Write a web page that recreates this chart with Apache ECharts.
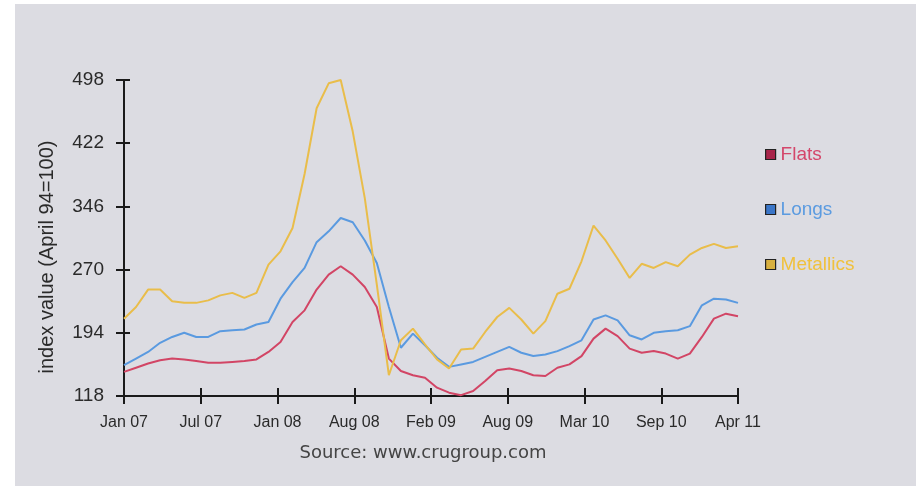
<!DOCTYPE html>
<html>
<head>
<meta charset="utf-8">
<script src="https://cdn.jsdelivr.net/npm/echarts@6/dist/echarts.min.js"></script>
<style>
html, body { margin: 0; padding: 0; background: #fff; }
#chart { position: absolute; left: 15px; top: 4px; width: 901px; height: 482px; background: #dcdce2; }
</style>
</head>
<body>
<div id="chart"></div>
<script>
// tick labels, evenly spaced along 52 monthly points (Jan 07 .. Apr 11)
const tickLabels = ['Jan 07', 'Jul 07', 'Jan 08', 'Aug 08', 'Feb 09', 'Aug 09', 'Mar 10', 'Sep 10', 'Apr 11']
const yTicks = [118, 194, 270, 346, 422, 498]

const flats = [147, 152, 157, 161, 163, 162, 160, 158, 158, 159, 160, 162,
    171, 183, 207, 221, 246, 264, 274, 264, 249, 225, 163, 148, 143, 140,
    128, 122, 119, 124, 136, 149, 151, 148, 143, 142, 152, 156, 166,
    187, 199, 190, 175, 170, 172, 169, 163, 169, 189, 211, 217, 214]
const longs = [155, 163, 171, 182, 189, 194, 189, 189, 196, 197, 198, 204,
    207, 235, 255, 272, 303, 316, 332, 327, 305, 278, 225, 176, 193, 179,
    164, 153, 156, 159, 165, 171, 177, 170, 166, 168, 172, 178, 185,
    210, 215, 209, 191, 186, 194, 196, 197, 202, 227, 235, 234, 230]
const metallics = [211, 225, 246, 246, 232, 230, 230, 233, 239, 242, 236, 242,
    276, 292, 320, 385, 464, 494, 498, 436, 356, 252, 143, 185, 199, 180,
    162, 151, 174, 175, 195, 213, 224, 210, 193, 208, 241, 247, 280,
    323, 305, 283, 260, 277, 272, 279, 274, 288, 296, 301, 296, 298]

const yBase = yTicks[0]
const yStep = yTicks[1] - yTicks[0]
const xStep = (flats.length - 1) / (tickLabels.length - 1)

const toPoints = arr => arr.map((v, i) => [i, v - yBase])

const myChart = echarts.init(document.getElementById('chart'))

const axisColor = '#1a1a1a'
const textColor = '#2a2a2a'

myChart.setOption({
    animation: false,
    grid: { left: 109, right: 178, top: 76, bottom: 90 },
    legend: {
        orient: 'vertical',
        left: 745,
        top: 136,
        itemGap: 36,
        itemWidth: 10,
        itemHeight: 10,
        icon: 'rect',
        itemStyle: { borderColor: '#222', borderWidth: 1.2 },
        textStyle: { fontFamily: 'Liberation Sans', fontSize: 19 },
        data: [
            { name: 'Flats', itemStyle: { color: '#a8254a' }, textStyle: { color: '#d4476b' } },
            { name: 'Longs', itemStyle: { color: '#3b76c8' }, textStyle: { color: '#5b9be0' } },
            { name: 'Metallics', itemStyle: { color: '#d8b040' }, textStyle: { color: '#f0c13d' } }
        ]
    },
    xAxis: [{
        type: 'value',
        min: 0,
        max: flats.length - 1,
        interval: xStep,
        position: 'bottom',
        splitLine: { show: false },
        axisLine: { lineStyle: { color: axisColor, width: 2 } },
        axisTick: { length: 8, lineStyle: { color: axisColor, width: 2 } },
        axisLabel: {
            margin: 19,
            color: textColor,
            fontFamily: 'Liberation Sans',
            fontSize: 16,
            formatter: v => tickLabels[Math.round(v / xStep)]
        }
    }, {
        type: 'value',
        min: 0,
        max: flats.length - 1,
        interval: xStep,
        position: 'bottom',
        splitLine: { show: false },
        axisLine: { show: false },
        axisTick: { inside: true, length: 8, lineStyle: { color: axisColor, width: 2 } },
        axisLabel: { show: false }
    }],
    yAxis: [{
        type: 'value',
        min: 0,
        max: yTicks[yTicks.length - 1] - yBase,
        interval: yStep,
        splitLine: { show: false },
        axisLine: { show: true, lineStyle: { color: axisColor, width: 2 } },
        axisTick: { show: true, length: 8, lineStyle: { color: axisColor, width: 2 } },
        axisLabel: {
            margin: 20,
            color: textColor,
            fontFamily: 'Liberation Sans',
            fontSize: 19,
            formatter: v => String(v + yBase)
        }
    }, {
        type: 'value',
        min: 0,
        max: yTicks[yTicks.length - 1] - yBase,
        interval: yStep,
        position: 'left',
        splitLine: { show: false },
        axisLine: { show: false },
        axisTick: { show: true, inside: true, length: 6, lineStyle: { color: axisColor, width: 2 } },
        axisLabel: { show: false }
    }],
    graphic: [{
        type: 'text',
        x: 32,
        y: 253,
        rotation: Math.PI / 2,
        style: {
            text: 'index value (April 94=100)',
            fill: textColor,
            font: '20px "Liberation Sans"',
            align: 'center',
            verticalAlign: 'middle'
        }
    }, {
        type: 'text',
        x: 408,
        y: 449,
        style: {
            text: 'Source: www.crugroup.com',
            fill: '#444',
            font: '18px "DejaVu Sans"',
            align: 'center',
            verticalAlign: 'middle'
        }
    }],
    series: [{
        name: 'Flats',
        type: 'line',
        symbol: 'none',
        lineStyle: { color: '#d24565', width: 2 },
        itemStyle: { color: '#a8254a' },
        data: toPoints(flats)
    }, {
        name: 'Longs',
        type: 'line',
        symbol: 'none',
        lineStyle: { color: '#5a9ae0', width: 2 },
        itemStyle: { color: '#3b76c8' },
        data: toPoints(longs)
    }, {
        name: 'Metallics',
        type: 'line',
        symbol: 'none',
        lineStyle: { color: '#e9bd4a', width: 2 },
        itemStyle: { color: '#d8b040' },
        data: toPoints(metallics)
    }]
})
</script>
</body>
</html>
